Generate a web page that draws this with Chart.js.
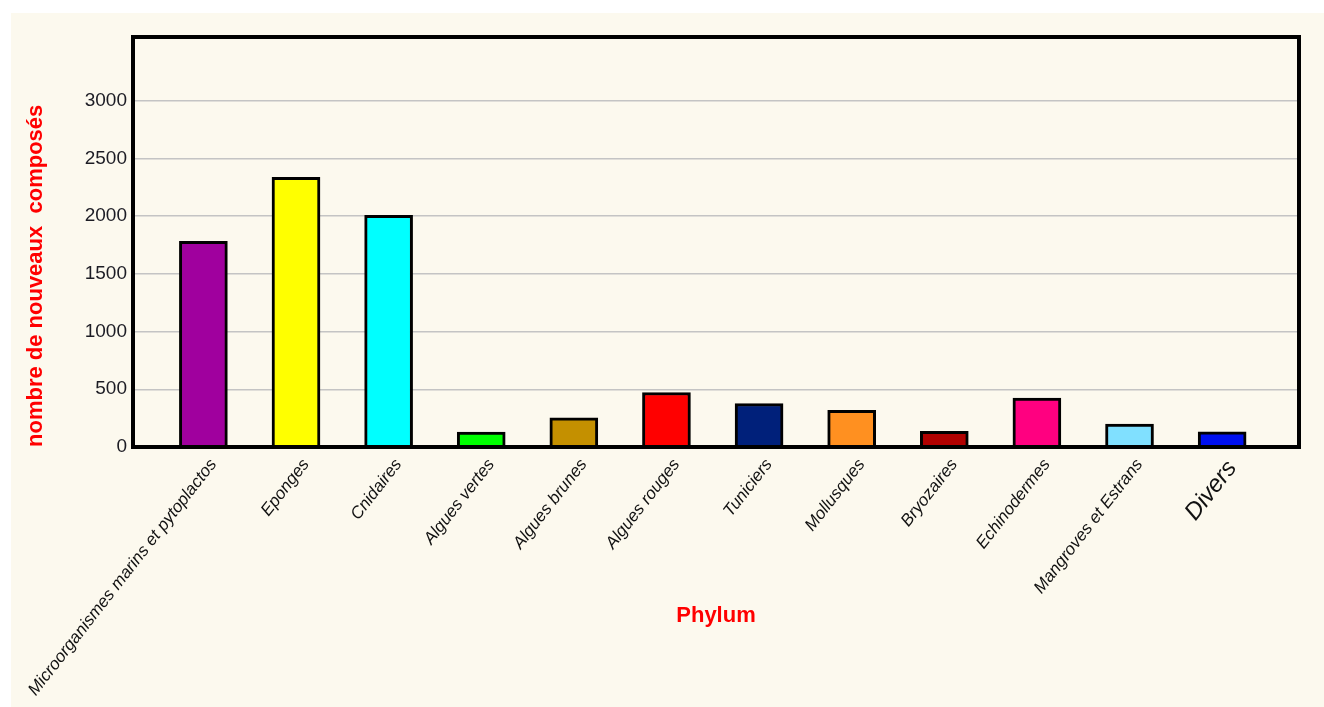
<!DOCTYPE html>
<html>
<head>
<meta charset="utf-8">
<script src="https://cdn.jsdelivr.net/npm/chart.js@4"></script>
<style>
  html, body { margin: 0; padding: 0; background: #ffffff; }
  #wrap { position: absolute; left: 0; top: 0; width: 1324px; height: 707px; }
</style>
</head>
<body>
<div id="wrap"><canvas id="phylumChart" width="1324" height="707"></canvas></div>
<script>
const categories = ['Microorganismes marins et pytoplactos', 'Eponges', 'Cnidaires', 'Algues vertes',
    'Algues brunes', 'Algues rouges', 'Tuniciers', 'Mollusques', 'Bryozaires', 'Echinodermes',
    'Mangroves et Estrans', 'Divers'];
const composes = [1780, 2335, 2005, 130, 252, 472, 377, 318, 135, 423, 198, 132];
const barColors = ['#A0009E', '#FFFF00', '#00FFFF', '#00FF00', '#C49000', '#FF0000',
    '#00207A', '#FF9020', '#B00000', '#FF0080', '#80E0FF', '#0010F0'];
const yTicks = [0, 500, 1000, 1500, 2000, 2500, 3000];

const cream = '#FCF9EE';

// background + plot frame
const framePlugin = {
    id: 'frame',
    beforeDraw(chart) {
        const c = chart.ctx;
        c.save();
        c.fillStyle = cream;
        c.fillRect(11, 13, chart.width - 11, chart.height - 13);
        c.restore();
    },
    afterDatasetsDraw(chart) {
        const a = chart.chartArea;
        const c = chart.ctx;
        c.save();
        c.strokeStyle = '#000';
        c.lineWidth = 4;
        c.strokeRect(a.left, a.top, a.right - a.left, a.bottom - a.top);
        c.restore();
    }
};

const ctx = document.getElementById('phylumChart').getContext('2d');
const phylumChart = new Chart(ctx, {
    type: 'bar',
    data: {
        datasets: [{
            data: composes.map((v, i) => ({x: i, y: v})),
            backgroundColor: barColors,
            borderColor: '#000',
            borderWidth: 3,
            barThickness: 48
        }]
    },
    options: {
        responsive: false,
        animation: false,
        layout: { padding: { top: 37, right: 25, left: 0, bottom: 0 } },
        plugins: { legend: { display: false }, tooltip: { enabled: false } },
        scales: {
            x: {
                type: 'linear',
                offset: false,
                min: -0.76,
                max: 11.83,
                afterBuildTicks: s => { s.ticks = categories.map((c, i) => ({value: i})); },
                afterFit: s => { s.height = 260; },
                grid: { display: false, drawTicks: false },
                border: { display: false },
                ticks: {
                    autoSkip: false,
                    minRotation: 52,
                    maxRotation: 52,
                    padding: 8,
                    labelOffset: 10,
                    color: '#111',
                    font: c => c.index === 11
                        ? { family: 'Arial, "Liberation Sans"', size: 24, style: 'italic' }
                        : { family: 'Arial, "Liberation Sans"', size: 17, style: 'italic' },
                    callback: v => categories[v]
                },
                title: {
                    display: true,
                    text: 'Phylum',
                    color: '#FF0000',
                    font: { family: 'Arial, "Liberation Sans"', size: 22, weight: 'bold' },
                    padding: { top: 0, bottom: 78 }
                }
            },
            y: {
                min: 0,
                max: 3550,
                afterBuildTicks: s => { s.ticks = yTicks.map(v => ({value: v})); },
                afterFit: s => { s.width = 133; },
                grid: { color: '#C4C4C4', lineWidth: 1.5, drawTicks: false },
                border: { display: false },
                ticks: {
                    padding: 6,
                    color: '#1c1c24',
                    font: { family: 'Arial, "Liberation Sans"', size: 19 },
                    callback: v => String(v)
                },
                title: {
                    display: true,
                    text: 'nombre de nouveaux  composés',
                    align: 'start',
                    color: '#FF0000',
                    font: { family: 'Arial, "Liberation Sans"', size: 22, weight: 'bold' },
                    padding: { top: 23, bottom: 0 }
                }
            }
        }
    },
    plugins: [framePlugin]
});
</script>
</body>
</html>
